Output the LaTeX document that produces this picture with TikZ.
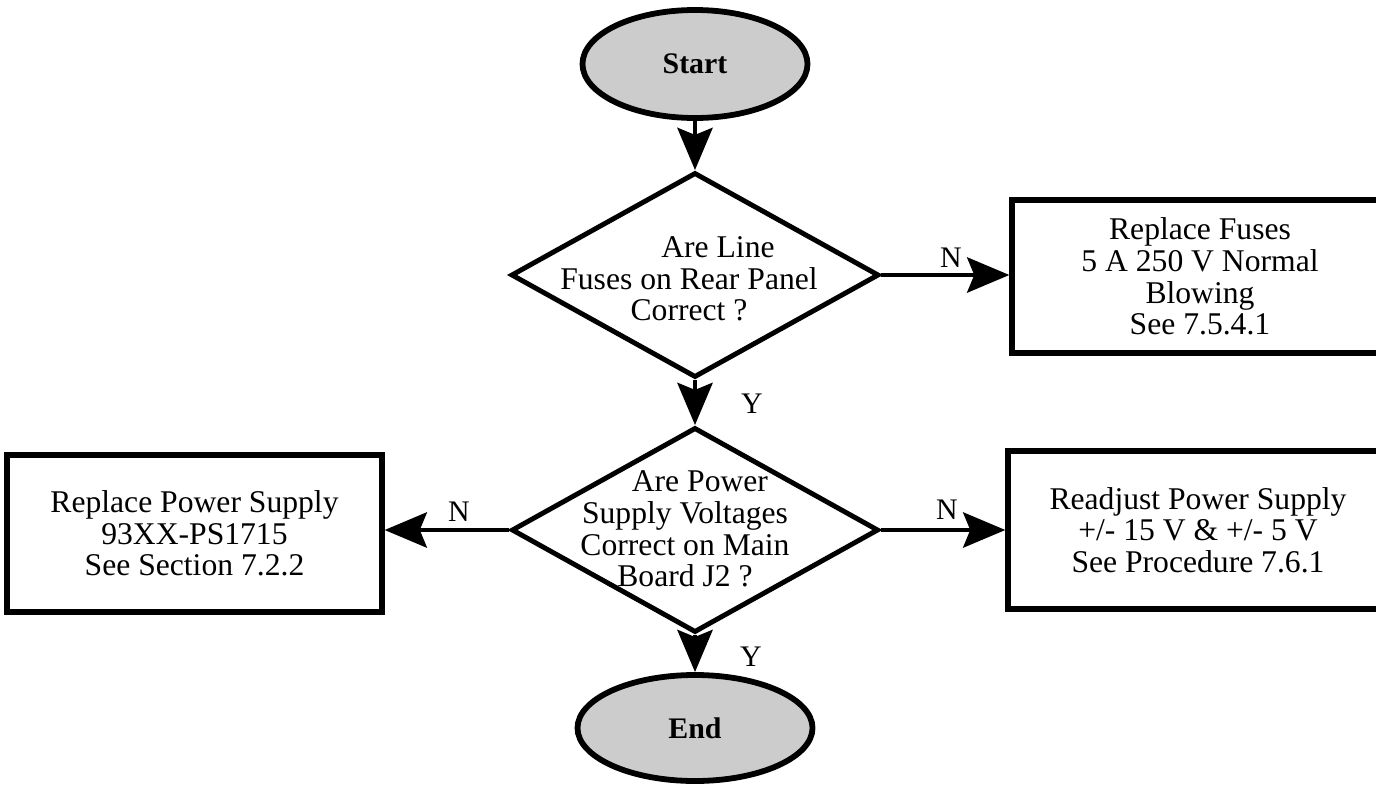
\documentclass[tikz,border=0pt]{standalone}
\usepackage{fontspec}
\setmainfont{Liberation Serif}
\usetikzlibrary{shapes.geometric,arrows.meta}
\tikzset{
  flowline/.style={line width=2.6pt, -{Stealth[length=24pt,width=20pt,inset=4pt]}},
  term/.style={ellipse, draw, line width=3.3pt, fill=black!20, inner sep=0pt,
    font=\fontsize{17}{18}\selectfont\bfseries},
  decision/.style={diamond, draw, line width=2.8pt, inner sep=0pt},
  txt/.style={align=center, inner sep=0pt, font=\fontsize{18}{18}\selectfont},
  action/.style={rectangle, draw, line width=3pt, align=center, inner sep=0pt,
    font=\fontsize{18}{18}\selectfont},
  lbl/.style={inner sep=0pt, font=\fontsize{17}{17}\selectfont}
}
\begin{document}
\begin{tikzpicture}[x=0.02cm,y=-0.02cm]
\clip (0,0) rectangle (1376,788);
% terminals
\node[term, minimum width=225*0.02cm, minimum height=108*0.02cm] (start) at (695,64) {Start};
\node[term, minimum width=235*0.02cm, minimum height=106*0.02cm] (end) at (695,728) {End};
% decisions
\node[decision, minimum width=368*0.02cm, minimum height=205*0.02cm] (d1) at (695,275) {};
\node[txt] (t1) at (689,279) {\hspace*{33pt}Are Line\\Fuses on Rear Panel\\Correct ?};
\node[decision, minimum width=367*0.02cm, minimum height=205*0.02cm] (d2) at (695,530) {};
\node[txt] (t2) at (685,529) {\hspace*{17pt}Are Power\\Supply Voltages\\Correct on Main\\Board J2 ?};
% actions
\node[action, minimum width=376*0.02cm, minimum height=153*0.02cm] (fuse) at (1200,276.5)
  {Replace Fuses\\5 A 250 V Normal\\Blowing\\See 7.5.4.1};
\node[action, minimum width=375*0.02cm, minimum height=157*0.02cm] (repl) at (194.5,533.5)
  {Replace Power Supply\\93XX-PS1715\\See Section 7.2.2};
\node[action, minimum width=380*0.02cm, minimum height=158*0.02cm] (adj) at (1198,530)
  {Readjust Power Supply\\+/- 15 V \& +/- 5 V\\See Procedure 7.6.1};
% connectors
\draw[flowline] (start.south) -- (d1.north);
\draw[flowline] (d1.east) -- (d1.east -| fuse.west);
\draw[flowline] (d1.south) -- (d2.north);
\draw[flowline] (d2.west) -- (d2.west -| repl.east);
\draw[flowline] (d2.east) -- (d2.east -| adj.west);
\draw[flowline] (d2.south) -- (end.north);
% labels
\node[lbl] (n1) at (951,258) {N};
\node[lbl] (y1) at (752,404) {Y};
\node[lbl] (n2) at (459,512) {N};
\node[lbl] (n3) at (947,510) {N};
\node[lbl] (y2) at (751,657) {Y};
\end{tikzpicture}
\end{document}
